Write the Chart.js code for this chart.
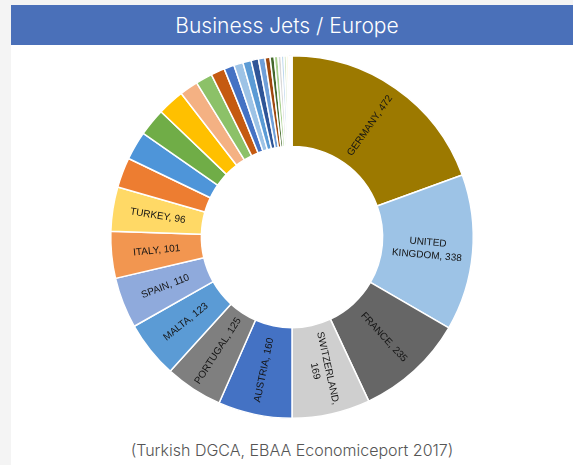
<!DOCTYPE html>
<html>
<head>
<meta charset="utf-8">
<script src="https://cdn.jsdelivr.net/npm/chart.js@4"></script>
<style>
    html, body { margin: 0; padding: 0; }
    body { width: 573px; height: 465px; background: #f4f4f4; position: relative; overflow: hidden; }
    #panel { position: absolute; left: 11px; top: 5px; width: 562px; height: 460px; background: #fff; }
    #band {
        position: absolute; left: 0; top: 0; width: 562px; height: 40px;
        background: #4a70b9; color: #fff;
        font-family: Inter, "Open Sans", sans-serif; font-size: 21px; font-weight: 300;
        line-height: 42px; text-align: center; text-indent: -10px;
    }
    #chartBox { position: absolute; left: 0; top: 40px; width: 562px; height: 384px; }
    #source {
        position: absolute; left: 0; top: 435px; width: 562px; text-align: center;
        font-family: Inter, "Open Sans", sans-serif; font-size: 16px; font-weight: 300; color: #555;
    }
</style>
</head>
<body>
<div id="panel">
    <div id="band">Business Jets / Europe</div>
    <div id="chartBox"><canvas id="jetsChart"></canvas></div>
    <div id="source">(Turkish DGCA, EBAA Economiceport 2017)</div>
</div>
<script>
// countries in the order Excel drew them, largest first
const countries = [
    'Germany', 'United Kingdom', 'France', 'Switzerland', 'Austria',
    'Portugal', 'Malta', 'Spain', 'Italy', 'Turkey',
    'Other 11', 'Other 12', 'Other 13', 'Other 14', 'Other 15', 'Other 16', 'Other 17',
    'Other 18', 'Other 19', 'Other 20', 'Other 21', 'Other 22', 'Other 23', 'Other 24',
    'Other 25', 'Other 26', 'Other 27', 'Other 28', 'Other 29', 'Other 30', 'Other 31',
    'Other 32', 'Other 33'
];
// number of business jets; unlabeled slices are estimated from their size
const jets = [
    472, 338, 235, 169, 160, 125, 123, 110, 101, 96,
    65, 62, 60, 58, 40, 36, 30,
    22, 20, 18, 16, 14, 11, 9, 8, 7, 6, 5, 4, 3, 2, 2, 1
];
// text printed on the slices (only the big ones carry a label)
const sliceText = [
    ['GERMANY, 472'], ['UNITED', 'KINGDOM, 338'], ['FRANCE, 235'], ['SWITZERLAND,', '169'],
    ['AUSTRIA, 160'], ['PORTUGAL, 125'], ['MALTA, 123'], ['SPAIN, 110'],
    ['ITALY, 101'], ['TURKEY, 96']
];
const sliceColors = [
    '#9c7900', '#9dc3e6', '#666666', '#cfcfcf', '#4472c4',
    '#7f7f7f', '#5b9bd5', '#8faadc', '#f29650', '#ffd966',
    '#ed7d31', '#4e95d9', '#70ad47', '#ffc000', '#f4b183', '#8cc168', '#c55a11',
    '#4472c4', '#9dc3e6', '#5b9bd5', '#2f5597', '#6f9fd8', '#9e480e', '#43682b',
    '#a9d18e', '#d9d9d9', '#bdd7ee', '#c5e0b4', '#ffe699', '#a5a5a5', '#264478',
    '#ffcd33', '#b4a06a'
];

// labels written along the radius of each slice, kept upright
const sliceLabels = {
    id: 'sliceLabels',
    afterDatasetsDraw(chart) {
        const ctx = chart.ctx;
        const meta = chart.getDatasetMeta(0);
        meta.data.forEach((arc, i) => {
            const lines = sliceText[i];
            if (!lines) return;
            const p = arc.getProps(['x', 'y', 'startAngle', 'endAngle', 'innerRadius', 'outerRadius'], true);
            const mid = (p.startAngle + p.endAngle) / 2;
            const r = (p.innerRadius + p.outerRadius) / 2;
            const cx = p.x + Math.cos(mid) * r;
            const cy = p.y + Math.sin(mid) * r;
            let rot = mid;
            while (rot > Math.PI / 2) rot -= Math.PI;
            while (rot < -Math.PI / 2) rot += Math.PI;
            ctx.save();
            ctx.translate(cx, cy);
            ctx.rotate(rot);
            ctx.font = '10px "Liberation Sans Narrow", "Liberation Sans", Arial, sans-serif';
            ctx.fillStyle = '#141414';
            ctx.textAlign = 'center';
            ctx.textBaseline = 'middle';
            const lh = 13;
            lines.forEach((t, k) => {
                ctx.fillText(t, 0, (k - (lines.length - 1) / 2) * lh);
            });
            ctx.restore();
        });
    }
};

document.addEventListener('DOMContentLoaded', () => {
    const canvas = document.getElementById('jetsChart');
    new Chart(canvas, {
        type: 'doughnut',
        data: {
            labels: countries,
            datasets: [{
                data: jets,
                backgroundColor: sliceColors,
                borderColor: '#ffffff',
                borderWidth: 1.5
            }]
        },
        options: {
            responsive: true,
            maintainAspectRatio: false,
            animation: false,
            cutout: '50%',
            layout: { padding: 10 },
            plugins: {
                legend: { display: false },
                tooltip: { enabled: false }
            }
        },
        plugins: [sliceLabels]
    });
});
</script>
</body>
</html>
